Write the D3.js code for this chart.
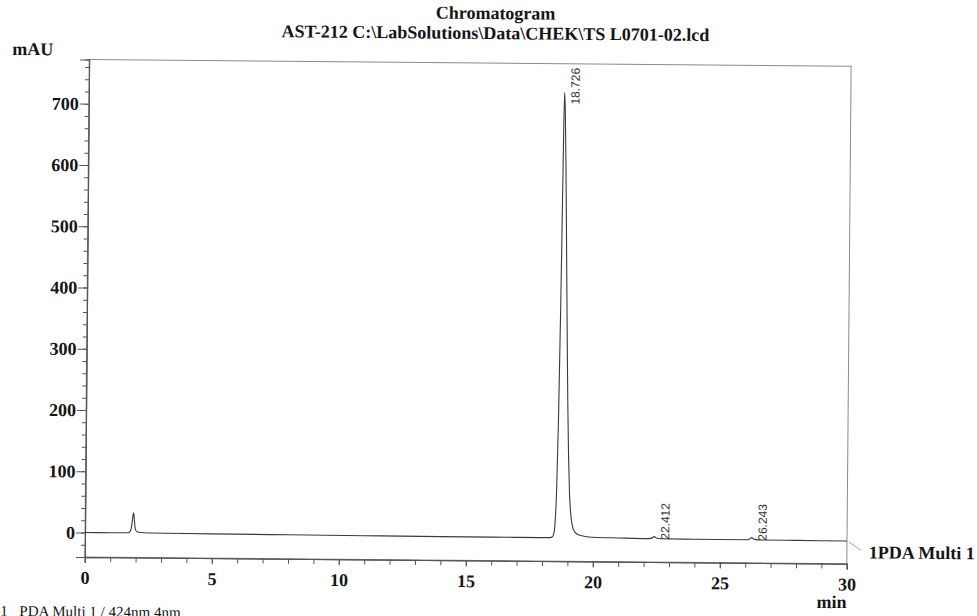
<!DOCTYPE html>
<html>
<head>
<meta charset="utf-8">
<script src="https://cdn.jsdelivr.net/npm/d3@7"></script>
<style>
  body { margin: 0; background: #fff; }
  svg text { font-family: "Liberation Serif", "Times New Roman", serif; fill: #151515; }
  .axis path, .axis line { stroke: #555; }
  .peak-label { font-family: "Liberation Sans", Arial, sans-serif; font-size: 12px; fill: #333; }
</style>
</head>
<body>
<div id="chart"></div>
<script>
// detector trace: retention time (min) and absorbance (mAU)
let traceTime = [0, 1.0, 1.70, 1.78, 1.84, 1.88, 1.91, 1.94, 1.98, 2.05, 2.2, 2.5, 5, 8, 11, 14, 16, 18.0, 18.30, 18.40,
  18.45, 18.50, 18.55, 18.60, 18.65, 18.69, 18.726, 18.76, 18.81, 18.86, 18.91, 18.96, 19.01, 19.06, 19.12, 19.20,
  19.30, 19.45, 19.65, 20.0, 21.0, 22.2, 22.33, 22.412, 22.50, 22.65, 24.0, 26.0, 26.15, 26.243, 26.33, 26.5, 28.0, 30.0];
let traceMAU = [0, 0, 0.3, 3, 14, 28, 33, 20, 6, 2, 0.8, 0.3, -0.3, -0.8, -1.2, -1.5, -1.6, -1.8, -1.6, -0.3,
  4, 22, 75, 190, 380, 580, 725, 700, 600, 470, 340, 220, 130, 70, 35, 15,
  7, 3, 1, -0.5, -1.2, -1.8, -0.6, 1.5, -0.8, -2.0, -2.2, -2.4, -1.5, 1.2, -1.2, -2.4, -2.7, -3.0];

let peakTimes = [18.726, 22.412, 26.243];
let peakHeights = [725, 1.5, 1.2];
let peakLabels = ["18.726", "22.412", "26.243"];

let xMajorTicks = [0, 5, 10, 15, 20, 25, 30];
let yMajorTicks = [0, 100, 200, 300, 400, 500, 600, 700];

let width = 977;
let height = 616;
let plotLeft = 87;
let plotRight = 849;
let plotTop = 63;
let plotBottom = 560.5;

/* Scale */
let xScale = d3.scaleLinear().domain([0, 30]).range([plotLeft, plotRight]);
let yScale = d3.scaleLinear().domain([-40, 772]).range([plotBottom, plotTop]);

let svg = d3.select("#chart")
  .append("svg")
  .attr("width", width)
  .attr("height", height)
  .append("g")
  // the printout was scanned slightly askew
  .attr("transform", "rotate(0.5, 480, 310)");

/* Titles */
svg.append("text")
  .attr("x", 493).attr("y", 19)
  .attr("text-anchor", "middle")
  .style("font-size", "18px").style("font-weight", "bold")
  .text("Chromatogram");

svg.append("text")
  .attr("x", 493).attr("y", 39)
  .attr("text-anchor", "middle")
  .style("font-size", "18px").style("font-weight", "bold")
  .text("AST-212 C:\\LabSolutions\\Data\\CHEK\\TS L0701-02.lcd");

svg.append("text")
  .attr("x", 10).attr("y", 59)
  .style("font-size", "18px").style("font-weight", "bold")
  .text("mAU");

/* Frame */
svg.append("rect")
  .attr("x", plotLeft).attr("y", plotTop)
  .attr("width", plotRight - plotLeft)
  .attr("height", plotBottom - plotTop)
  .attr("fill", "none")
  .attr("stroke", "#8a8a8a")
  .attr("stroke-width", 1);

/* Axes */
let yMinor = d3.axisLeft(yScale).tickValues(d3.range(-40, 761, 20)).tickSize(4).tickFormat("");
let yMajor = d3.axisLeft(yScale).tickValues(yMajorTicks).tickSize(9).tickPadding(1);
let xMinor = d3.axisBottom(xScale).tickValues(d3.range(0, 31, 1)).tickSize(5).tickFormat("");
let xMajor = d3.axisBottom(xScale).tickValues(xMajorTicks).tickSize(6).tickPadding(8);

svg.append("g").attr("class", "axis").attr("transform", `translate(${plotLeft},0)`).call(yMinor);
svg.append("g").attr("class", "axis").attr("transform", `translate(${plotLeft},0)`).call(yMajor);
svg.append("g").attr("class", "axis").attr("transform", `translate(0,${plotBottom})`).call(xMinor);
svg.append("g").attr("class", "axis").attr("transform", `translate(0,${plotBottom})`).call(xMajor);

svg.selectAll(".axis .domain").attr("stroke", "#555");
svg.selectAll(".axis text")
  .style("font-family", "'Liberation Serif', 'Times New Roman', serif")
  .style("font-size", "18px")
  .style("font-weight", "bold")
  .attr("fill", "#151515");

svg.append("text")
  .attr("x", xScale(30)).attr("y", 605)
  .attr("text-anchor", "end")
  .style("font-size", "18px").style("font-weight", "bold")
  .text("min");

/* Trace */
let line = d3.line()
  .x(d => xScale(d[0]))
  .y(d => yScale(d[1]))
  .curve(d3.curveMonotoneX);

svg.append("path")
  .attr("d", line(d3.zip(traceTime, traceMAU)))
  .attr("fill", "none")
  .attr("stroke", "#3a3a3a")
  .attr("stroke-width", 1.1);

/* Channel tag with leader */
let endX = xScale(traceTime[traceTime.length - 1]);
let endY = yScale(traceMAU[traceMAU.length - 1]);
svg.append("line")
  .attr("x1", endX + 2).attr("y1", endY + 1)
  .attr("x2", endX + 14).attr("y2", endY + 9)
  .attr("stroke", "#aaa");

svg.append("text")
  .attr("x", 871).attr("y", 555)
  .style("font-size", "18px").style("font-weight", "bold")
  .text("1PDA Multi 1");

/* Peak labels */
peakTimes.forEach(function(t, i) {
  let label = svg.append("text")
    .attr("class", "peak-label")
    .text(peakLabels[i]);
  let len = label.node().getComputedTextLength();
  let y0 = Math.max(yScale(peakHeights[i]) + 3, plotTop + 4 + len);
  let x0 = xScale(t) + 15;
  label.attr("transform", `translate(${x0},${y0}) rotate(-90)`);
});

/* Footer note, cut by the page edge as in the scan */
svg.append("text")
  .attr("x", 3).attr("y", 620)
  .style("font-size", "15px")
  .text("1");
svg.append("text")
  .attr("x", 22).attr("y", 620)
  .style("font-size", "15px")
  .text("PDA Multi 1 / 424nm 4nm");
</script>
</body>
</html>
